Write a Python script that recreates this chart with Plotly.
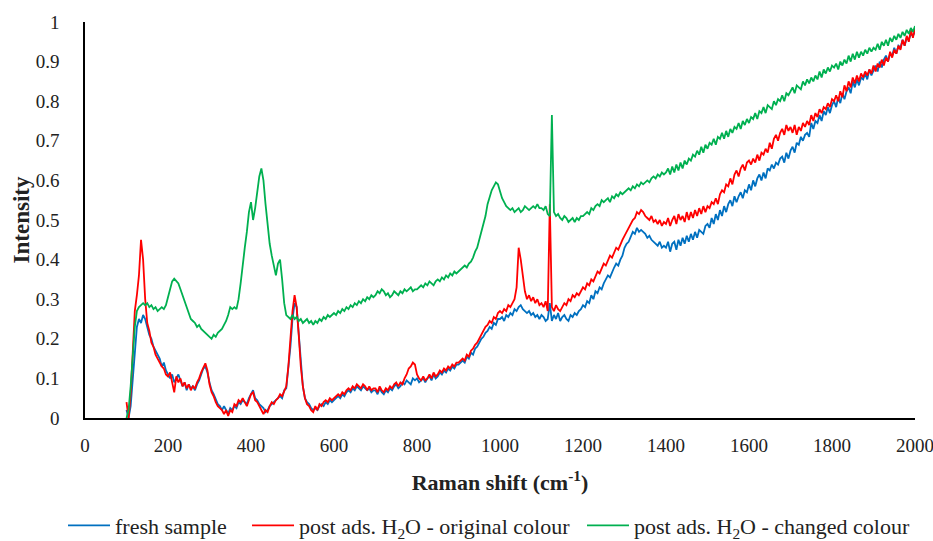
import plotly.graph_objects as go

# Raman shift axis (cm-1), sampled every 5 cm-1 from 100 to 2000
raman_shift = list(range(100, 2001, 5))

fresh_sample = [
    0.02, 0.00, 0.03, 0.10, 0.18, 0.23, 0.25, 0.24, 0.26, 0.25, 0.23, 0.21, 0.20, 0.18, 0.17, 0.16, 0.15, 0.13, 0.14, 0.12,
    0.11, 0.10, 0.11, 0.09, 0.10, 0.11, 0.095, 0.08, 0.09, 0.07, 0.085, 0.075, 0.08, 0.07, 0.085, 0.095, 0.11, 0.125, 0.13, 0.115,
    0.09, 0.07, 0.06, 0.045, 0.035, 0.03, 0.02, 0.03, 0.02, 0.01, 0.025, 0.02, 0.03, 0.025, 0.04, 0.035, 0.045, 0.04, 0.035, 0.05,
    0.06, 0.07, 0.05, 0.045, 0.035, 0.03, 0.025, 0.015, 0.02, 0.03, 0.035, 0.04, 0.045, 0.05, 0.055, 0.05, 0.07, 0.075, 0.12, 0.18,
    0.25, 0.29, 0.28, 0.22, 0.14, 0.08, 0.05, 0.04, 0.035, 0.025, 0.02, 0.025, 0.02, 0.03, 0.035, 0.03, 0.04, 0.035, 0.045, 0.04,
    0.045, 0.05, 0.055, 0.05, 0.06, 0.055, 0.065, 0.07, 0.065, 0.075, 0.07, 0.08, 0.075, 0.07, 0.08, 0.075, 0.07, 0.075, 0.065, 0.07,
    0.07, 0.06, 0.075, 0.065, 0.06, 0.07, 0.065, 0.075, 0.07, 0.08, 0.085, 0.075, 0.08, 0.09, 0.085, 0.095, 0.09, 0.085, 0.10, 0.095,
    0.10, 0.09, 0.095, 0.10, 0.09, 0.10, 0.105, 0.095, 0.11, 0.10, 0.105, 0.115, 0.11, 0.12, 0.115, 0.125, 0.12, 0.13, 0.125, 0.135,
    0.135, 0.14, 0.145, 0.14, 0.155, 0.15, 0.165, 0.16, 0.175, 0.18, 0.19, 0.20, 0.205, 0.215, 0.22, 0.23, 0.225, 0.24, 0.235, 0.25,
    0.25, 0.255, 0.245, 0.26, 0.255, 0.265, 0.26, 0.275, 0.27, 0.28, 0.285, 0.275, 0.27, 0.265, 0.27, 0.26, 0.265, 0.255, 0.26, 0.25,
    0.26, 0.255, 0.245, 0.25, 0.29, 0.245, 0.26, 0.25, 0.265, 0.245, 0.255, 0.26, 0.25, 0.245, 0.26, 0.255, 0.265, 0.26, 0.27, 0.275,
    0.285, 0.28, 0.295, 0.29, 0.31, 0.30, 0.32, 0.315, 0.33, 0.325, 0.34, 0.35, 0.36, 0.355, 0.37, 0.38, 0.39, 0.385, 0.40, 0.41,
    0.43, 0.44, 0.445, 0.46, 0.47, 0.465, 0.48, 0.47, 0.475, 0.47, 0.465, 0.455, 0.46, 0.45, 0.445, 0.44, 0.435, 0.445, 0.43, 0.435,
    0.43, 0.445, 0.42, 0.44, 0.445, 0.425, 0.45, 0.435, 0.455, 0.44, 0.46, 0.445, 0.465, 0.45, 0.47, 0.455, 0.475, 0.47, 0.465, 0.485,
    0.49, 0.48, 0.505, 0.49, 0.515, 0.50, 0.525, 0.51, 0.535, 0.52, 0.54, 0.55, 0.535, 0.56, 0.545, 0.56, 0.57, 0.555, 0.575, 0.57,
    0.59, 0.575, 0.60, 0.585, 0.605, 0.615, 0.60, 0.62, 0.605, 0.63, 0.625, 0.64, 0.63, 0.645, 0.64, 0.655, 0.66, 0.645, 0.67, 0.655,
    0.675, 0.685, 0.67, 0.695, 0.69, 0.71, 0.70, 0.715, 0.72, 0.71, 0.745, 0.73, 0.75, 0.745, 0.765, 0.75, 0.775, 0.765, 0.785, 0.77,
    0.79, 0.80, 0.785, 0.81, 0.795, 0.82, 0.805, 0.825, 0.835, 0.82, 0.85, 0.835, 0.855, 0.84, 0.86, 0.855, 0.87, 0.855, 0.88, 0.865,
    0.88, 0.89, 0.875, 0.90, 0.885, 0.905, 0.915, 0.90, 0.92, 0.915, 0.935, 0.92, 0.94, 0.935, 0.955, 0.94, 0.96, 0.955, 0.97, 0.965,
    0.975,
]

original_colour = [
    0.04, 0.00, 0.06, 0.17, 0.27, 0.31, 0.36, 0.45, 0.40, 0.30, 0.24, 0.22, 0.19, 0.18, 0.16, 0.15, 0.14, 0.13, 0.125, 0.11,
    0.105, 0.115, 0.09, 0.065, 0.105, 0.09, 0.10, 0.08, 0.09, 0.075, 0.085, 0.07, 0.08, 0.075, 0.09, 0.10, 0.115, 0.125, 0.138, 0.12,
    0.085, 0.065, 0.055, 0.04, 0.03, 0.025, 0.02, 0.01, 0.02, 0.005, 0.02, 0.015, 0.035, 0.03, 0.045, 0.04, 0.05, 0.04, 0.03, 0.045,
    0.06, 0.065, 0.045, 0.04, 0.03, 0.02, 0.01, 0.02, 0.015, 0.03, 0.04, 0.035, 0.045, 0.05, 0.06, 0.055, 0.07, 0.08, 0.13, 0.20,
    0.27, 0.31, 0.28, 0.21, 0.13, 0.08, 0.05, 0.035, 0.03, 0.02, 0.015, 0.03, 0.02, 0.035, 0.03, 0.04, 0.045, 0.04, 0.05, 0.045,
    0.05, 0.055, 0.06, 0.055, 0.065, 0.06, 0.07, 0.075, 0.07, 0.08, 0.075, 0.085, 0.08, 0.075, 0.085, 0.08, 0.07, 0.08, 0.07, 0.075,
    0.075, 0.065, 0.08, 0.07, 0.065, 0.075, 0.07, 0.08, 0.075, 0.085, 0.09, 0.08, 0.09, 0.085, 0.10, 0.11, 0.125, 0.13, 0.14, 0.135,
    0.11, 0.10, 0.095, 0.105, 0.095, 0.10, 0.11, 0.10, 0.115, 0.105, 0.11, 0.12, 0.115, 0.125, 0.12, 0.13, 0.125, 0.135, 0.13, 0.14,
    0.14, 0.145, 0.15, 0.145, 0.16, 0.155, 0.17, 0.175, 0.185, 0.19, 0.20, 0.21, 0.22, 0.23, 0.235, 0.245, 0.24, 0.255, 0.25, 0.265,
    0.27, 0.265, 0.275, 0.27, 0.285, 0.28, 0.29, 0.30, 0.33, 0.43, 0.40, 0.36, 0.32, 0.30, 0.31, 0.295, 0.305, 0.29, 0.30, 0.285,
    0.29, 0.28, 0.295, 0.27, 0.54, 0.28, 0.27, 0.285, 0.275, 0.27, 0.28, 0.29, 0.285, 0.30, 0.295, 0.31, 0.305, 0.315, 0.31, 0.32,
    0.33, 0.325, 0.34, 0.335, 0.35, 0.345, 0.36, 0.37, 0.365, 0.38, 0.39, 0.385, 0.40, 0.41, 0.405, 0.42, 0.43, 0.425, 0.44, 0.45,
    0.46, 0.47, 0.48, 0.49, 0.50, 0.505, 0.52, 0.515, 0.525, 0.52, 0.51, 0.505, 0.50, 0.51, 0.495, 0.50, 0.49, 0.50, 0.485, 0.495,
    0.49, 0.505, 0.485, 0.50, 0.51, 0.49, 0.515, 0.50, 0.51, 0.495, 0.52, 0.50, 0.52, 0.505, 0.525, 0.51, 0.53, 0.515, 0.535, 0.52,
    0.535, 0.53, 0.545, 0.54, 0.555, 0.54, 0.565, 0.575, 0.57, 0.59, 0.585, 0.605, 0.59, 0.615, 0.625, 0.61, 0.63, 0.64, 0.625, 0.645,
    0.65, 0.64, 0.655, 0.645, 0.665, 0.65, 0.67, 0.665, 0.68, 0.67, 0.695, 0.68, 0.705, 0.715, 0.70, 0.72, 0.73, 0.715, 0.74, 0.725,
    0.735, 0.72, 0.74, 0.715, 0.735, 0.725, 0.745, 0.735, 0.75, 0.74, 0.765, 0.75, 0.77, 0.76, 0.78, 0.77, 0.785, 0.78, 0.795, 0.785,
    0.805, 0.80, 0.815, 0.80, 0.825, 0.81, 0.84, 0.825, 0.85, 0.835, 0.86, 0.845, 0.865, 0.85, 0.87, 0.86, 0.875, 0.865, 0.88, 0.87,
    0.89, 0.875, 0.895, 0.885, 0.905, 0.89, 0.91, 0.90, 0.925, 0.91, 0.93, 0.92, 0.94, 0.93, 0.955, 0.94, 0.965, 0.95, 0.98, 0.96,
    0.985,
]

changed_colour = [
    0.00, 0.02, 0.08, 0.16, 0.23, 0.27, 0.28, 0.285, 0.29, 0.285, 0.29, 0.28, 0.285, 0.275, 0.28, 0.27, 0.275, 0.28, 0.275, 0.285,
    0.305, 0.325, 0.345, 0.352, 0.345, 0.34, 0.325, 0.31, 0.29, 0.275, 0.26, 0.25, 0.245, 0.24, 0.23, 0.235, 0.225, 0.22, 0.215, 0.21,
    0.205, 0.20, 0.21, 0.205, 0.215, 0.22, 0.225, 0.235, 0.245, 0.26, 0.28, 0.275, 0.28, 0.275, 0.30, 0.34, 0.39, 0.43, 0.47, 0.52,
    0.545, 0.50, 0.53, 0.57, 0.61, 0.63, 0.60, 0.54, 0.48, 0.44, 0.41, 0.38, 0.36, 0.39, 0.40, 0.35, 0.29, 0.26, 0.255, 0.25,
    0.26, 0.25, 0.255, 0.245, 0.25, 0.24, 0.245, 0.25, 0.24, 0.245, 0.235, 0.245, 0.24, 0.25, 0.245, 0.255, 0.25, 0.26, 0.255, 0.26,
    0.265, 0.26, 0.27, 0.265, 0.275, 0.27, 0.28, 0.275, 0.285, 0.28, 0.29, 0.285, 0.295, 0.29, 0.30, 0.295, 0.305, 0.30, 0.31, 0.305,
    0.31, 0.32, 0.315, 0.325, 0.32, 0.31, 0.315, 0.305, 0.31, 0.32, 0.315, 0.31, 0.32, 0.315, 0.325, 0.32, 0.325, 0.33, 0.32, 0.325,
    0.325, 0.33, 0.335, 0.33, 0.34, 0.335, 0.345, 0.34, 0.335, 0.345, 0.35, 0.345, 0.355, 0.35, 0.36, 0.355, 0.365, 0.36, 0.37, 0.365,
    0.37, 0.375, 0.38, 0.385, 0.38, 0.39, 0.395, 0.405, 0.42, 0.43, 0.45, 0.47, 0.49, 0.51, 0.54, 0.56, 0.575, 0.585, 0.595, 0.59,
    0.57, 0.555, 0.545, 0.535, 0.53, 0.525, 0.53, 0.52, 0.525, 0.53, 0.52, 0.525, 0.535, 0.53, 0.525, 0.53, 0.535, 0.53, 0.54, 0.53,
    0.53, 0.525, 0.535, 0.515, 0.51, 0.765, 0.52, 0.51, 0.515, 0.505, 0.50, 0.51, 0.505, 0.495, 0.50, 0.505, 0.495, 0.505, 0.50, 0.51,
    0.51, 0.515, 0.52, 0.515, 0.53, 0.525, 0.535, 0.54, 0.535, 0.55, 0.545, 0.55, 0.555, 0.545, 0.56, 0.555, 0.565, 0.56, 0.57, 0.565,
    0.57, 0.575, 0.58, 0.575, 0.585, 0.58, 0.59, 0.585, 0.595, 0.59, 0.595, 0.60, 0.595, 0.605, 0.61, 0.605, 0.615, 0.61, 0.62, 0.615,
    0.62, 0.63, 0.615, 0.635, 0.62, 0.64, 0.625, 0.645, 0.63, 0.65, 0.64, 0.655, 0.65, 0.665, 0.66, 0.675, 0.665, 0.685, 0.67, 0.69,
    0.68, 0.695, 0.69, 0.705, 0.69, 0.71, 0.705, 0.72, 0.705, 0.725, 0.71, 0.73, 0.72, 0.735, 0.73, 0.745, 0.73, 0.75, 0.74, 0.755,
    0.745, 0.76, 0.755, 0.77, 0.755, 0.775, 0.77, 0.785, 0.77, 0.79, 0.785, 0.78, 0.80, 0.79, 0.805, 0.80, 0.815, 0.80, 0.82, 0.815,
    0.825, 0.835, 0.82, 0.84, 0.835, 0.83, 0.85, 0.84, 0.855, 0.845, 0.86, 0.85, 0.865, 0.855, 0.875, 0.86, 0.88, 0.87, 0.885, 0.875,
    0.89, 0.885, 0.895, 0.88, 0.90, 0.89, 0.905, 0.895, 0.915, 0.90, 0.92, 0.905, 0.925, 0.91, 0.925, 0.915, 0.93, 0.92, 0.935, 0.925,
    0.935, 0.93, 0.945, 0.93, 0.95, 0.94, 0.955, 0.94, 0.96, 0.95, 0.965, 0.955, 0.97, 0.96, 0.975, 0.965, 0.98, 0.97, 0.985, 0.975,
    0.99,
]

series_names = [
    "fresh sample",
    "post ads. H<sub>2</sub>O - original colour",
    "post ads. H<sub>2</sub>O - changed colour",
]
series_colors = ["#0070C0", "#FF0000", "#00B050"]
legend_ids = ["legend", "legend2", "legend3"]
legend_x = [-0.0265, 0.1952, 0.5988]
x_ticks = list(range(0, 2001, 200))
y_ticks = [0, 0.1, 0.2, 0.3, 0.4, 0.5, 0.6, 0.7, 0.8, 0.9, 1]
y_tick_text = ["0", "0.1", "0.2", "0.3", "0.4", "0.5", "0.6", "0.7", "0.8", "0.9", "1"]

FONT = "Liberation Serif"
TEXT = "#222222"

fig = go.Figure()
for name, values, color, lg in zip(series_names, [fresh_sample, original_colour, changed_colour],
                                   series_colors, legend_ids):
    fig.add_trace(go.Scatter(
        x=raman_shift, y=values, name=name, mode="lines", legend=lg,
        line=dict(color=color, width=1.8),
    ))

legend_style = dict(
    orientation="h", y=-0.2715, yanchor="middle", xanchor="left",
    font=dict(family=FONT, size=22, color=TEXT), itemwidth=42,
    bgcolor="rgba(0,0,0,0)", borderwidth=0,
)
legends = {lg: dict(legend_style, x=lx) for lg, lx in zip(legend_ids, legend_x)}

fig.update_layout(
    width=933, height=541,
    margin=dict(l=85, r=18, t=22, b=123, autoexpand=False),
    paper_bgcolor="white", plot_bgcolor="white",
    font=dict(family=FONT, color=TEXT, size=19),
    showlegend=True,
    xaxis=dict(
        range=[0, 2000], tickvals=x_ticks, showgrid=False, zeroline=False,
        showline=True, linecolor="#000000", linewidth=1.5, ticks="",
        ticklabelstandoff=9, ticklabeloverflow="allow", automargin=False,
        tickfont=dict(family=FONT, size=19, color=TEXT),
        title=dict(text="<b>Raman shift (cm<sup>-1</sup>)</b>", standoff=20,
                   font=dict(family=FONT, size=22, color=TEXT)),
    ),
    yaxis=dict(
        range=[0, 1], tickvals=y_ticks, ticktext=y_tick_text, showgrid=False,
        zeroline=False, showline=True, linecolor="#000000", linewidth=1.5, ticks="",
        ticklabelstandoff=20, ticklabeloverflow="allow", automargin=False,
        tickfont=dict(family=FONT, size=19, color=TEXT),
        title=dict(text="<b>Intensity</b>", standoff=0,
                   font=dict(family=FONT, size=23, color=TEXT)),
    ),
    **legends,
)

fig.write_html("out.html")
